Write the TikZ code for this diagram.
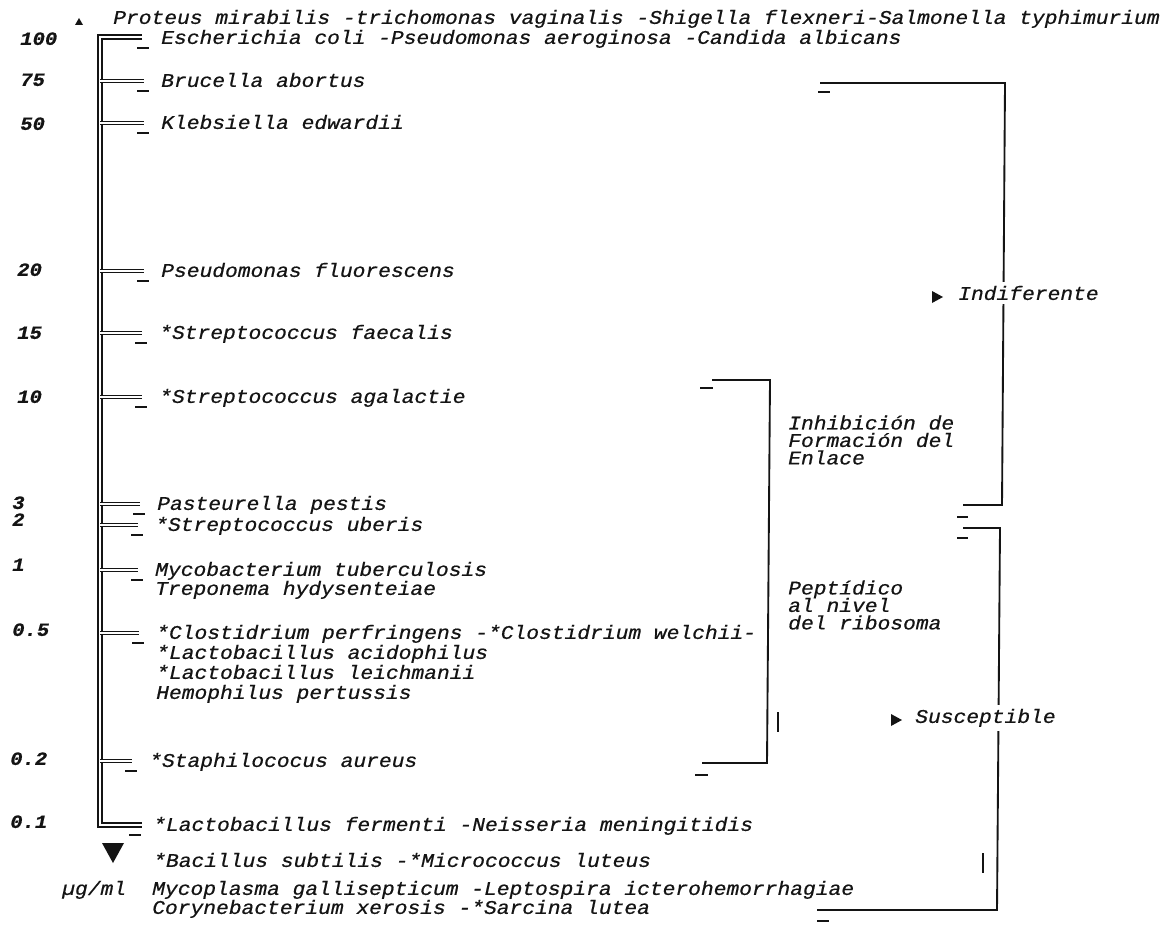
\documentclass[tikz,border=0pt]{standalone}
\usepackage{fontspec}
\usepackage{tikz}
\usetikzlibrary{positioning,calc}
\newfontfamily\typewriter{Liberation Mono}[FakeStretch=1.1, FakeBold=0.6]
\newcommand\tightleading{\lineskiplimit-20pt\lineskip0pt\relax}
\definecolor{ink}{HTML}{141414}
\definecolor{paper}{HTML}{FFFFFF}

\tikzset{
  species/.style={
    anchor=mid west,
    inner sep=0pt,
    text=ink,
    font=\typewriter\itshape\fontsize{14.5}{17}\selectfont
  },
  conc/.style={
    species,
    font=\typewriter\itshape\bfseries\fontsize{14}{17}\selectfont
  },
  effect/.style={
    species,
    fill=paper,
    inner ysep=3pt
  },
  mechanism/.style={
    species,
    anchor=west,
    align=left,
    font={\typewriter\itshape\fontsize{14.5}{13.1}\selectfont\tightleading}
  },
  axisline/.style={draw=ink, double=paper, double distance=1.2pt, line width=1.7pt},
  tick/.style={draw=ink, double=paper, double distance=1pt, line width=1.3pt},
  stub/.style={draw=ink, line width=1.8pt},
  bracket/.style={draw=ink, line width=1.4pt}
}

\begin{document}
\begin{tikzpicture}[x=0.75pt,y=-0.75pt]
  \fill[paper] (0,0) rectangle (1176,924);
  \useasboundingbox (0,0) rectangle (1176,924);

  % concentration scale (ug/ml)
  \node[conc] (c100) at (20,42) {100};
  \node[conc] (c75) at (20,83) {75};
  \node[conc] (c50) at (20,127) {50};
  \node[conc] (c20) at (17,273) {20};
  \node[conc] (c15) at (17,336) {15};
  \node[conc] (c10) at (17,400) {10};
  \node[conc] (c3) at (12,506) {3};
  \node[conc] (c2) at (12,523) {2};
  \node[conc] (c1) at (12,568) {1};
  \node[conc] (c05) at (12,633) {0.5};
  \node[conc] (c02) at (10,762) {0.2};
  \node[conc] (c01) at (10,825) {0.1};
  \node[species] (unit) at (62,892) {µg/ml};

  % organisms
  \node[species] (top) at (113,21) {Proteus mirabilis -trichomonas vaginalis -Shigella flexneri-Salmonella typhimurium};
  \node[species] (s100) at (161,41) {Escherichia coli -Pseudomonas aeroginosa -Candida albicans};
  \node[species] (s75) at (161,84) {Brucella abortus};
  \node[species] (s50) at (161,126) {Klebsiella edwardii};
  \node[species] (s20) at (161,274) {Pseudomonas fluorescens};
  \node[species] (s15) at (159,336) {*Streptococcus faecalis};
  \node[species] (s10) at (159,400) {*Streptococcus agalactie};
  \node[species] (s3) at (157,507) {Pasteurella pestis};
  \node[species] (s2) at (155,528) {*Streptococcus uberis};
  \node[species] (s1) at (155,573) {Mycobacterium tuberculosis};
  \node[species] (s1b) at (155,592) {Treponema hydysenteiae};
  \node[species] (s05) at (156,636) {*Clostidrium perfringens -*Clostidrium welchii-};
  \node[species] (s05b) at (156,656) {*Lactobacillus acidophilus};
  \node[species] (s05c) at (156,676) {*Lactobacillus leichmanii};
  \node[species] (s05d) at (156,696) {Hemophilus pertussis};
  \node[species] (s02) at (149,764) {*Staphilococus aureus};
  \node[species] (s01) at (153,828) {*Lactobacillus fermenti -Neisseria meningitidis};
  \node[species] (r1) at (153,864) {*Bacillus subtilis -*Micrococcus luteus};
  \node[species] (r2) at (152,892) {Mycoplasma gallisepticum -Leptospira icterohemorrhagiae};
  \node[species] (r3) at (152,911) {Corynebacterium xerosis -*Sarcina lutea};

  % scale line with its ticks
  \coordinate (ax) at (100,0);
  \draw[axisline] ($(s100.mid west)+(-19,-4)$) -- ($(ax |- s100.mid west)+(0,-4)$)
    -- ($(ax |- s01.mid west)+(0,-3)$) -- ($(s01.mid west)+(-11,-3)$);
  \foreach \r in {s75,s50,s20,s15,s10,s3,s2,s1,s05,s02}
    \draw[tick] ($(ax |- \r.mid west)+(0,-3)$) -- ($(\r.mid west)+(-17,-3)$);
  \foreach \r in {s100,s75,s50,s20,s15,s10,s3,s2,s1,s05,s02,s01}
    \draw[stub] ($(\r.mid west)+(-24,7)$) -- ++(12,0);
  \fill[ink] (75,25) -- (83,25) -- (79,18) -- cycle;
  \fill[ink] (102,843) -- (124,843) -- (113,863) -- cycle;

  % mechanism bracket
  \coordinate (ia) at (712,380);
  \coordinate (ib) at (770,380);
  \coordinate (ic) at (767,763);
  \coordinate (id) at (702,763);
  \draw[bracket] (ia) -- (ib) -- (ic) -- (id);
  \draw[stub] (700,388) -- (713,388);
  \draw[stub] (695,775) -- (708,775);
  \draw[stub] (778,712) -- (778,732);
  \node[mechanism] (inh) at (788,440) {Inhibición de\\Formación del\\Enlace};
  \node[mechanism] (pep) at (788,605) {Peptídico\\al nivel\\del ribosoma};

  % indiferente bracket
  \coordinate (na) at (820,83);
  \coordinate (nb) at (1005,83);
  \coordinate (nc) at (1002,505);
  \coordinate (nd) at (963,505);
  \draw[bracket] (na) -- (nb) -- (nc) -- (nd);
  \draw[stub] (818,92) -- (830,92);
  \draw[stub] (957,517) -- (968,517);

  % susceptible bracket
  \coordinate (sa) at (963,528);
  \coordinate (sb) at (1000,528);
  \coordinate (sc) at (997,910);
  \coordinate (sd) at (817,910);
  \draw[bracket] (sa) -- (sb) -- (sc) -- (sd);
  \draw[stub] (957,538) -- (968,538);
  \draw[stub] (817,921) -- (829,921);
  \draw[stub] (983,853) -- (983,873);

  \node[effect] (indif) at (958,297) {Indiferente};
  \fill[ink] (932,291) -- (932,303) -- (943,297) -- cycle;
  \node[effect] (suscep) at (915,720) {Susceptible};
  \fill[ink] (891,714) -- (891,726) -- (902,720) -- cycle;
\end{tikzpicture}
\end{document}
